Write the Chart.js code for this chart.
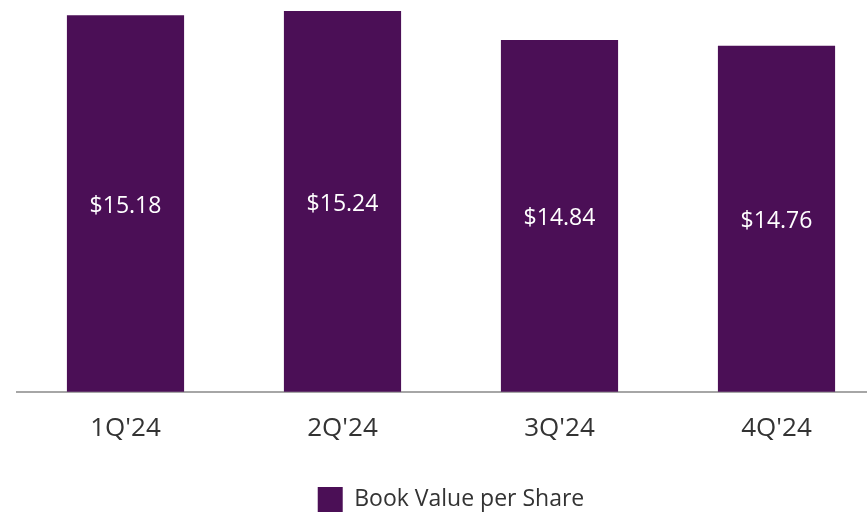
<!DOCTYPE html>
<html>
<head>
<meta charset="utf-8">
<script src="https://cdn.jsdelivr.net/npm/chart.js@4"></script>
<style>
html,body{margin:0;padding:0;overflow:hidden;background:#fff;width:867px;height:512px;}
canvas{display:block;}
</style>
</head>
<body>
<canvas id="c" width="902" height="522"></canvas>
<script>
const categories = ["1Q'24", "2Q'24", "3Q'24", "4Q'24"];
const bookValue = [15.18, 15.24, 14.84, 14.76];
const seriesName = "Book Value per Share";

const valueLabels = {
  id: 'valueLabels',
  afterDraw(chart) {
    const ctx = chart.ctx;
    const yScale = chart.scales.y;
    const meta = chart.getDatasetMeta(0);
    const basePix = yScale.getPixelForValue(yScale.min);
    ctx.save();
    ctx.fillStyle = '#ffffff';
    ctx.font = '23px "Open Sans", sans-serif';
    ctx.textAlign = 'center';
    ctx.textBaseline = 'middle';
    bookValue.forEach((v, i) => {
      const x = meta.data[i].x;
      const top = yScale.getPixelForValue(v);
      ctx.fillText('$' + v.toFixed(2), x, (top + basePix) / 2 + 3);
    });
    ctx.restore();
  }
};

new Chart(document.getElementById('c'), {
  type: 'bar',
  data: {
    labels: categories,
    datasets: [{
      label: seriesName,
      data: bookValue,
      backgroundColor: '#4b0f56',
      borderWidth: 0,
      barPercentage: 0.54,
      categoryPercentage: 1.0
    }]
  },
  options: {
    responsive: false,
    animation: false,
    layout: { padding: { left: 17, right: 17, top: 0, bottom: 0 } },
    plugins: {
      legend: {
        position: 'bottom',
        labels: {
          boxWidth: 25,
          boxHeight: 25,
          padding: 5,
          color: '#333333',
          font: { family: 'Open Sans', size: 23 }
        }
      },
      tooltip: { enabled: false }
    },
    scales: {
      x: {
        grid: { display: false },
        border: { display: true, color: '#a6a6a6', width: 2 },
        ticks: {
          color: '#333333',
          padding: 13,
          font: { family: 'Open Sans', size: 26 }
        },
        afterFit(s) { s.height += 25; }
      },
      y: {
        display: false,
        min: 10,
        max: 15.39
      }
    }
  },
  plugins: [valueLabels]
});
</script>
</body>
</html>
